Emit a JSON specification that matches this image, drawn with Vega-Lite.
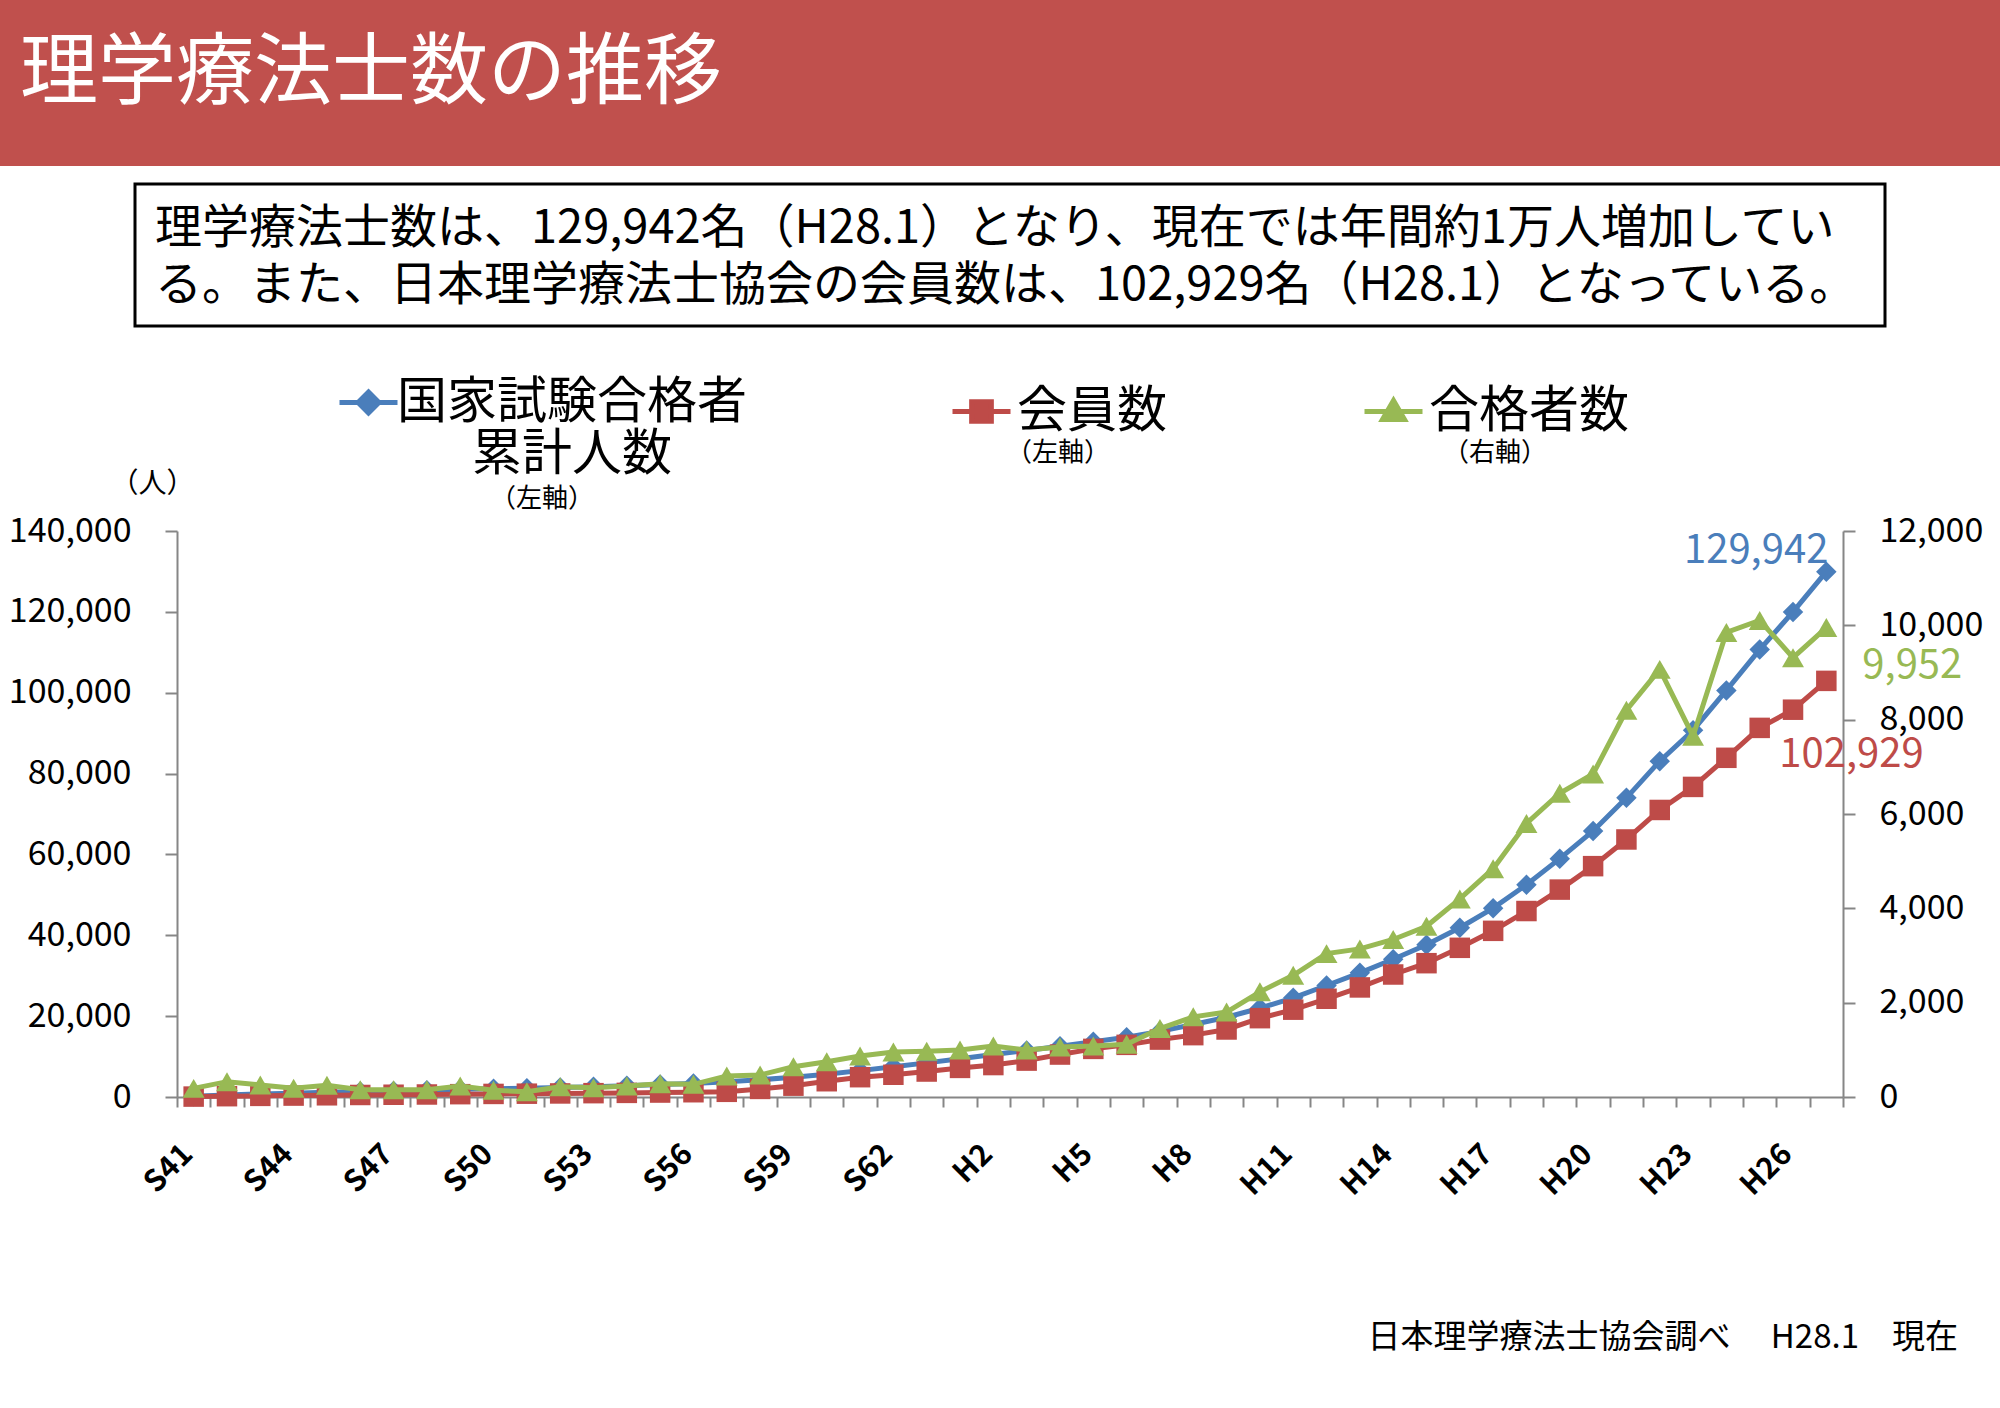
{
  "$schema": "https://vega.github.io/schema/vega-lite/v6.json",
  "padding": 0,
  "background": "white",
  "spacing": 16,
  "config": {
    "view": {"stroke": null},
    "font": "Noto Sans CJK JP",
    "numberFormat": ",",
    "axisLeft": {"labelFontSize": 34, "labelFont": "Noto Sans CJK JP", "labelColor": "black", "labelPadding": 34, "tickSize": 12, "tickWidth": 2, "tickColor": "#868686", "domainColor": "#868686", "domainWidth": 2, "grid": false, "titleAngle": 0, "titleFont": "Noto Sans CJK JP", "titleFontSize": 28, "titleFontWeight": "normal", "titleColor": "black", "titleX": -25, "titleY": -47, "titleAlign": "center", "titleBaseline": "middle"},
    "axisRight": {"labelFontSize": 34, "labelFont": "Noto Sans CJK JP", "labelColor": "black", "labelPadding": 24, "tickSize": 12, "tickWidth": 2, "tickColor": "#868686", "domainColor": "#868686", "domainWidth": 2, "grid": false},
    "axisBottom": {"labelFontSize": 30, "labelFont": "Noto Sans CJK JP", "labelFontWeight": "bold", "labelColor": "black", "tickSize": 10, "tickWidth": 2, "tickColor": "#868686", "domainColor": "#868686", "domainWidth": 2, "grid": false},
    "legend": {"padding": 0, "labelLimit": 1000, "labelColor": "black", "labelFontSize": 50, "labelFont": "Noto Sans CJK JP", "titleFont": "Noto Sans CJK JP", "titleFontSize": 26, "titleFontWeight": "normal", "titleColor": "black", "titleOrient": "bottom", "titleAnchor": "middle", "titlePadding": 3, "symbolSize": 3364, "symbolStrokeWidth": 5, "labelOffset": 4}
  },
  "datasets": {
    "pt": [
      {"year": "S41", "cum": 183, "mem": 100, "pass": 183},
      {"year": "S42", "cum": 508, "mem": 200, "pass": 325},
      {"year": "S43", "cum": 762, "mem": 280, "pass": 254},
      {"year": "S44", "cum": 946, "mem": 350, "pass": 184},
      {"year": "S45", "cum": 1193, "mem": 420, "pass": 247},
      {"year": "S46", "cum": 1349, "mem": 500, "pass": 156},
      {"year": "S47", "cum": 1505, "mem": 560, "pass": 156},
      {"year": "S48", "cum": 1661, "mem": 620, "pass": 156},
      {"year": "S49", "cum": 1894, "mem": 700, "pass": 233},
      {"year": "S50", "cum": 2035, "mem": 760, "pass": 141},
      {"year": "S51", "cum": 2148, "mem": 820, "pass": 113},
      {"year": "S52", "cum": 2367, "mem": 880, "pass": 219},
      {"year": "S53", "cum": 2565, "mem": 950, "pass": 198},
      {"year": "S54", "cum": 2798, "mem": 1020, "pass": 233},
      {"year": "S55", "cum": 3081, "mem": 1100, "pass": 283},
      {"year": "S56", "cum": 3350, "mem": 1180, "pass": 269},
      {"year": "S57", "cum": 3795, "mem": 1280, "pass": 445},
      {"year": "S58", "cum": 4262, "mem": 2000, "pass": 467},
      {"year": "S59", "cum": 4905, "mem": 2800, "pass": 643},
      {"year": "S60", "cum": 5654, "mem": 3900, "pass": 749},
      {"year": "S61", "cum": 6523, "mem": 4900, "pass": 869},
      {"year": "S62", "cum": 7477, "mem": 5500, "pass": 954},
      {"year": "S63", "cum": 8445, "mem": 6300, "pass": 968},
      {"year": "H1", "cum": 9441, "mem": 7200, "pass": 996},
      {"year": "H2", "cum": 10522, "mem": 7900, "pass": 1081},
      {"year": "H3", "cum": 11518, "mem": 9000, "pass": 996},
      {"year": "H4", "cum": 12578, "mem": 10500, "pass": 1060},
      {"year": "H5", "cum": 13658, "mem": 11900, "pass": 1080},
      {"year": "H6", "cum": 14775, "mem": 12900, "pass": 1117},
      {"year": "H7", "cum": 16225, "mem": 14200, "pass": 1450},
      {"year": "H8", "cum": 17925, "mem": 15300, "pass": 1700},
      {"year": "H9", "cum": 19725, "mem": 16700, "pass": 1800},
      {"year": "H10", "cum": 21955, "mem": 19500, "pass": 2230},
      {"year": "H11", "cum": 24535, "mem": 21600, "pass": 2580},
      {"year": "H12", "cum": 27575, "mem": 24300, "pass": 3040},
      {"year": "H13", "cum": 30715, "mem": 27100, "pass": 3140},
      {"year": "H14", "cum": 34055, "mem": 30300, "pass": 3340},
      {"year": "H15", "cum": 37675, "mem": 33100, "pass": 3620},
      {"year": "H16", "cum": 41875, "mem": 36900, "pass": 4200},
      {"year": "H17", "cum": 46715, "mem": 41100, "pass": 4840},
      {"year": "H18", "cum": 52515, "mem": 46000, "pass": 5800},
      {"year": "H19", "cum": 58955, "mem": 51300, "pass": 6440},
      {"year": "H20", "cum": 65805, "mem": 57100, "pass": 6850},
      {"year": "H21", "cum": 74005, "mem": 63700, "pass": 8200},
      {"year": "H22", "cum": 83071, "mem": 71000, "pass": 9066},
      {"year": "H23", "cum": 90721, "mem": 76700, "pass": 7650},
      {"year": "H24", "cum": 100571, "mem": 83900, "pass": 9850},
      {"year": "H25", "cum": 110675, "mem": 91300, "pass": 10104},
      {"year": "H26", "cum": 119990, "mem": 95800, "pass": 9315},
      {"year": "H27", "cum": 129942, "mem": 102929, "pass": 9952}
    ]
  },
  "vconcat": [
    {
      "width": 2000, "height": 166,
      "view": {"fill": "#C0504D", "stroke": null},
      "data": {"values": []},
      "mark": "point",
      "title": {"text": "理学療法士数の推移", "orient": "top", "anchor": "start", "frame": "group", "offset": -153, "dx": 20, "baseline": "middle", "fontSize": 78, "fontWeight": "normal", "color": "white", "font": "Noto Sans CJK JP"}
    },
    {
      "spacing": 0,
      "hconcat": [
        {"width": 133, "height": 142, "data": {"values": []}, "mark": "point"},
        {
          "width": 1750, "height": 142,
          "view": {"stroke": "black", "strokeWidth": 3},
          "data": {"values": []},
          "mark": "point",
          "title": {"text": ["理学療法士数は、129,942名（H28.1）となり、現在では年間約1万人増加してい", "る。また、日本理学療法士協会の会員数は、102,929名（H28.1）となっている。"], "orient": "top", "anchor": "start", "frame": "group", "offset": -149, "dx": 20, "baseline": "middle", "lineHeight": 57, "fontSize": 47, "fontWeight": "normal", "color": "black", "font": "Noto Sans CJK JP"}
        }
      ]
    },
    {
      "bounds": "flush", "spacing": 0,
      "hconcat": [
        {"width": 177, "height": 566, "data": {"values": []}, "mark": "point"},
        {
          "width": 1666, "height": 566,
          "data": {"name": "pt"},
          "title": {"text": "日本理学療法士協会調べ　 H28.1　現在", "orient": "bottom", "anchor": "end", "frame": "group", "offset": 121, "dx": 115, "fontSize": 33, "fontWeight": "normal", "color": "black", "font": "Noto Sans CJK JP"},
          "layer": [
            {
              "layer": [
                {
                  "mark": {"type": "line", "color": "#4A7EBB", "strokeWidth": 5},
                  "encoding": {
                    "x": {"field": "year", "type": "ordinal", "sort": null, "scale": {"type": "band", "paddingInner": 0, "paddingOuter": 0},
                      "axis": {"title": null, "tickBand": "extent", "labelOverlap": false, "labelAngle": -45, "labelAlign": "right", "labelBaseline": "middle", "labelPadding": 42, "labelOffset": -6,
                        "labelExpr": "indexof(['S41','S44','S47','S50','S53','S56','S59','S62','H2','H5','H8','H11','H14','H17','H20','H23','H26'], datum.value) >= 0 ? datum.value : ''"}},
                    "y": {"field": "cum", "type": "quantitative", "scale": {"domain": [0, 140000]}, "axis": {"title": "（人）", "orient": "left", "values": [0, 20000, 40000, 60000, 80000, 100000, 120000, 140000], "format": ",.0f"}}
                  }
                },
                {
                  "mark": {"type": "point", "filled": true, "shape": "diamond", "size": 420, "opacity": 1},
                  "encoding": {
                    "x": {"field": "year", "type": "ordinal", "sort": null},
                    "y": {"field": "cum", "type": "quantitative", "axis": {"title": "（人）", "orient": "left", "values": [0, 20000, 40000, 60000, 80000, 100000, 120000, 140000], "format": ",.0f"}},
                    "color": {"datum": "国家試験合格者累計人数", "type": "nominal", "scale": {"range": ["#4A7EBB"]},
                      "legend": {"orient": "none", "legendX": 133.5, "legendY": -186.5, "padding": 26.5, "title": "（左軸）", "titlePadding": 6, "labelAlign": "center", "labelOffset": 172, "labelExpr": "['国家試験合格者', '累計人数']", "symbolType": "M-1,0H1M0,-0.36L0.36,0L0,0.36L-0.36,0Z", "symbolStrokeColor": "#4A7EBB", "symbolFillColor": "#4A7EBB"}}
                  }
                },
                {
                  "mark": {"type": "line", "color": "#BE4B48", "strokeWidth": 5},
                  "encoding": {
                    "x": {"field": "year", "type": "ordinal", "sort": null},
                    "y": {"field": "mem", "type": "quantitative", "axis": {"title": "（人）", "orient": "left", "values": [0, 20000, 40000, 60000, 80000, 100000, 120000, 140000], "format": ",.0f"}}
                  }
                },
                {
                  "mark": {"type": "point", "filled": true, "shape": "square", "size": 420, "opacity": 1},
                  "encoding": {
                    "x": {"field": "year", "type": "ordinal", "sort": null},
                    "y": {"field": "mem", "type": "quantitative", "axis": {"title": "（人）", "orient": "left", "values": [0, 20000, 40000, 60000, 80000, 100000, 120000, 140000], "format": ",.0f"}},
                    "color": {"datum": "会員数", "type": "nominal", "scale": {"range": ["#BE4B48"]},
                      "legend": {"orient": "none", "legendX": 773, "legendY": -151, "title": "（左軸）", "symbolType": "M-1,0H1M-0.34,-0.34H0.34V0.34H-0.34Z", "symbolStrokeColor": "#BE4B48", "symbolFillColor": "#BE4B48"}}
                  }
                },
                {
                  "transform": [{"filter": "datum.year == 'H27'"}],
                  "mark": {"type": "text", "align": "right", "baseline": "middle", "dx": 2, "dy": -21, "fontSize": 40, "color": "#4A7EBB", "font": "Noto Sans CJK JP"},
                  "encoding": {
                    "x": {"field": "year", "type": "ordinal", "sort": null},
                    "y": {"field": "cum", "type": "quantitative", "axis": {"title": "（人）", "orient": "left", "values": [0, 20000, 40000, 60000, 80000, 100000, 120000, 140000], "format": ",.0f"}},
                    "text": {"field": "cum", "type": "quantitative", "format": ","}
                  }
                },
                {
                  "transform": [{"filter": "datum.year == 'H27'"}],
                  "mark": {"type": "text", "align": "left", "baseline": "middle", "dx": -47, "dy": 74, "fontSize": 40, "color": "#BE4B48", "font": "Noto Sans CJK JP"},
                  "encoding": {
                    "x": {"field": "year", "type": "ordinal", "sort": null},
                    "y": {"field": "mem", "type": "quantitative", "axis": {"title": "（人）", "orient": "left", "values": [0, 20000, 40000, 60000, 80000, 100000, 120000, 140000], "format": ",.0f"}},
                    "text": {"field": "mem", "type": "quantitative", "format": ","}
                  }
                }
              ],
              "resolve": {"scale": {"color": "independent"}, "legend": {"color": "independent"}}
            },
            {
              "layer": [
                {
                  "mark": {"type": "line", "color": "#98B954", "strokeWidth": 5},
                  "encoding": {
                    "x": {"field": "year", "type": "ordinal", "sort": null},
                    "y": {"field": "pass", "type": "quantitative", "scale": {"domain": [0, 12000]}, "axis": {"title": null, "orient": "right", "values": [0, 2000, 4000, 6000, 8000, 10000, 12000], "format": ",.0f"}}
                  }
                },
                {
                  "mark": {"type": "point", "filled": true, "shape": "triangle-up", "size": 480, "opacity": 1},
                  "encoding": {
                    "x": {"field": "year", "type": "ordinal", "sort": null},
                    "y": {"field": "pass", "type": "quantitative", "axis": {"title": null, "orient": "right", "values": [0, 2000, 4000, 6000, 8000, 10000, 12000], "format": ",.0f"}},
                    "color": {"datum": "合格者数", "type": "nominal", "scale": {"range": ["#98B954"]},
                      "legend": {"orient": "none", "legendX": 1185, "legendY": -151, "title": "（右軸）", "symbolType": "M-1,0H1M0,-0.38L0.38,0.28L-0.38,0.28Z", "symbolStrokeColor": "#98B954", "symbolFillColor": "#98B954"}}
                  }
                },
                {
                  "transform": [{"filter": "datum.year == 'H27'"}],
                  "mark": {"type": "text", "align": "left", "baseline": "middle", "dx": 36, "dy": 38, "fontSize": 40, "color": "#98B954", "font": "Noto Sans CJK JP"},
                  "encoding": {
                    "x": {"field": "year", "type": "ordinal", "sort": null},
                    "y": {"field": "pass", "type": "quantitative", "axis": {"title": null, "orient": "right", "values": [0, 2000, 4000, 6000, 8000, 10000, 12000], "format": ",.0f"}},
                    "text": {"field": "pass", "type": "quantitative", "format": ","}
                  }
                }
              ]
            }
          ],
          "resolve": {"scale": {"y": "independent", "color": "independent"}, "legend": {"color": "independent"}}
        }
      ]
    }
  ]
}
